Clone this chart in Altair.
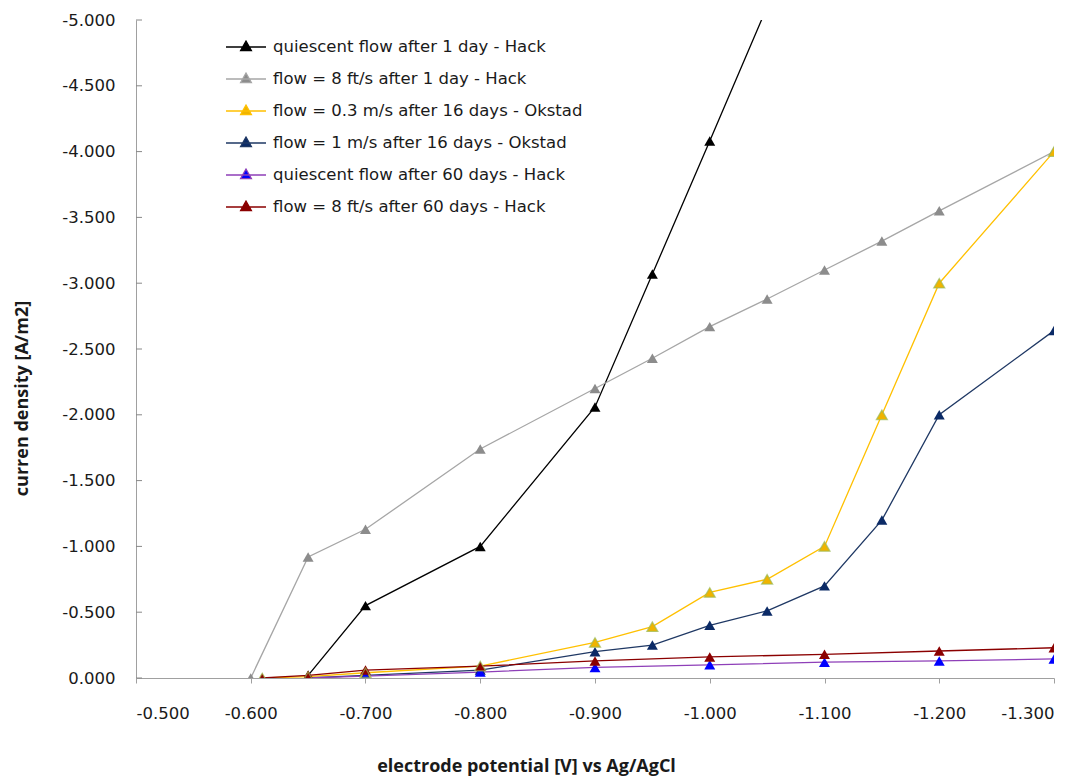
import altair as alt
import pandas as pd

# ---- data ----
series_names = [
    "quiescent flow after 1 day - Hack",
    "flow = 8 ft/s after 1 day - Hack",
    "flow = 0.3 m/s after 16 days - Okstad",
    "flow = 1 m/s after 16 days - Okstad",
    "quiescent flow after 60 days - Hack",
    "flow = 8 ft/s after 60 days - Hack",
]

black_x = [-0.65, -0.70, -0.80, -0.90, -0.95, -1.00, -1.05]
black_y = [-0.02, -0.55, -1.00, -2.06, -3.07, -4.08, -5.10]

gray_x = [-0.60, -0.65, -0.70, -0.80, -0.90, -0.95, -1.00, -1.05, -1.10, -1.15, -1.20, -1.30]
gray_y = [0.0, -0.92, -1.13, -1.74, -2.20, -2.43, -2.67, -2.88, -3.10, -3.32, -3.55, -4.00]

yellow_x = [-0.61, -0.65, -0.70, -0.80, -0.90, -0.95, -1.00, -1.05, -1.10, -1.15, -1.20, -1.30]
yellow_y = [0.0, -0.01, -0.04, -0.09, -0.27, -0.39, -0.65, -0.75, -1.00, -2.00, -3.00, -4.00]

navy_x = [-0.65, -0.70, -0.80, -0.90, -0.95, -1.00, -1.05, -1.10, -1.15, -1.20, -1.30]
navy_y = [0.0, -0.02, -0.06, -0.20, -0.25, -0.40, -0.51, -0.70, -1.20, -2.00, -2.64]

purple_x = [-0.65, -0.70, -0.80, -0.90, -1.00, -1.10, -1.20, -1.30]
purple_y = [0.0, -0.015, -0.045, -0.08, -0.10, -0.12, -0.13, -0.145]

red_x = [-0.61, -0.65, -0.70, -0.80, -0.90, -1.00, -1.10, -1.20, -1.30]
red_y = [0.0, -0.02, -0.06, -0.09, -0.13, -0.16, -0.18, -0.205, -0.23]

x_ticks = [-0.5, -0.6, -0.7, -0.8, -0.9, -1.0, -1.1, -1.2, -1.3]
y_ticks = [0.0, -0.5, -1.0, -1.5, -2.0, -2.5, -3.0, -3.5, -4.0, -4.5, -5.0]

# ---- styling ----
line_colors = ["#000000", "#A6A6A6", "#FFC000", "#1F3864", "#8E3FB8", "#8B0000"]
marker_colors = ["#000000", "#8C8C8C", "#F0B400", "#0B2A66", "#0000FF", "#8B0000"]
FONT = "DejaVu Sans"
TFONT = "Open Sans"

xs = [black_x, gray_x, yellow_x, navy_x, purple_x, red_x]
ys = [black_y, gray_y, yellow_y, navy_y, purple_y, red_y]
rows = []
for i, (name, xv, yv) in enumerate(zip(series_names, xs, ys)):
    for a, b in zip(xv, yv):
        rows.append({"series": name, "order": i, "potential": a, "current": b})
df = pd.DataFrame(rows)
tick_df = pd.DataFrame({"current": y_ticks})

label_expr = "replace(format(datum.value, '.3f'), '\u2212', '-')"

x_enc = alt.X(
    "potential:Q",
    scale=alt.Scale(domain=[-1.3, -0.5], reverse=True, nice=False, zero=False),
    axis=alt.Axis(
        values=x_ticks, labelExpr=label_expr, grid=False,
        domainColor="#A0A0A0", tickColor="#A0A0A0", tickSize=5,
        labelPadding=22, labelFontSize=16.5, labelFont=FONT, labelColor="#1a1a1a",
        title="electrode potential [V] vs Ag/AgCl", titleFont=TFONT, titleFontSize=18,
        titleFontWeight="bold", titleX=390, titleY=88, titleBaseline="middle",
        titleAnchor="start", titleAlign="center", titleColor="#1a1a1a",
    ),
)
y_enc = alt.Y(
    "current:Q",
    scale=alt.Scale(domain=[-5, 0], reverse=True, nice=False, zero=False),
    axis=alt.Axis(
        values=y_ticks, labelExpr=label_expr, grid=False, ticks=False,
        domainColor="#A0A0A0", labelPadding=21, labelFontSize=16.5, labelFont=FONT,
        labelColor="#1a1a1a",
        title="curren density [A/m2]", titleFont=TFONT, titleFontSize=18,
        titleFontWeight="bold", titleX=-114, titleY=378, titleBaseline="middle",
        titleAlign="center", titleAngle=-90, titleColor="#1a1a1a",
    ),
)

legend = alt.Legend(
    title=None, orient="none", legendX=89, legendY=6,
    labelFont=FONT, labelFontSize=16.5, labelColor="#1a1a1a", labelOffset=6,
    labelLimit=0,
    symbolType="M-1,0L1,0M0,-0.3L0.27,0.18L-0.27,0.18Z",
    symbolSize=1600, symbolStrokeWidth=1.3, rowPadding=2,
)

lines = alt.Chart(df).mark_line(strokeWidth=1.3, clip=True).encode(
    x=x_enc, y=y_enc,
    stroke=alt.Stroke("series:N", scale=alt.Scale(domain=series_names, range=line_colors), legend=legend),
    detail="series:N",
    order=alt.Order("potential:Q"),
)

points = alt.Chart(df).mark_point(shape="triangle-up", filled=True, size=120, opacity=1, clip=True).encode(
    x=alt.X("potential:Q"), y=alt.Y("current:Q"),
    fill=alt.Fill("series:N", scale=alt.Scale(domain=series_names, range=marker_colors), legend=legend),
)

yellow_edges = alt.Chart(df).transform_filter(
    alt.datum.series == series_names[2]
).mark_point(shape="triangle-up", filled=False, size=120, stroke="#9BBB59", strokeWidth=1.3, clip=True).encode(
    x=alt.X("potential:Q"), y=alt.Y("current:Q"),
)

inner_ticks = alt.Chart(tick_df).mark_rule(color="#888888", strokeWidth=1).encode(
    y=alt.Y("current:Q"), x=alt.value(0), x2=alt.value(6),
)

chart = alt.layer(inner_ticks, lines, points, yellow_edges).properties(
    width=918, height=658,
    padding={"left": 136, "top": 20, "right": 34, "bottom": 101},
    autosize=alt.AutoSizeParams(type="none"),
    background="white",
).configure_view(stroke=None)

chart.save("out.html", embed_options={"renderer": "svg", "actions": False})
